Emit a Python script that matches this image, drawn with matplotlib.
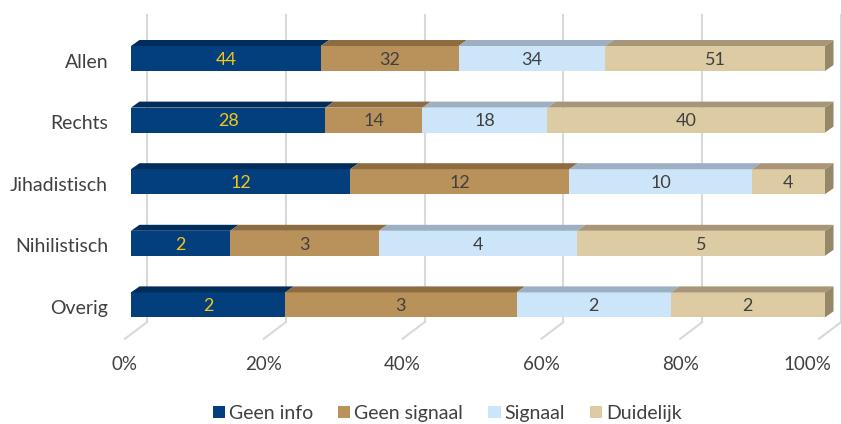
import numpy as np
import matplotlib.pyplot as plt
from matplotlib.patches import Polygon, Patch

plt.rcParams['font.family'] = ['Lato', 'DejaVu Sans']

# data (aantallen per categorie)
categorieen = ['Allen', 'Rechts', 'Jihadistisch', 'Nihilistisch', 'Overig']
reeksen = ['Geen info', 'Geen signaal', 'Signaal', 'Duidelijk']
geen_info = [44, 28, 12, 2, 2]
geen_signaal = [32, 14, 12, 3, 3]
signaal = [34, 18, 10, 4, 2]
duidelijk = [51, 40, 4, 5, 2]
xticks = [0, 20, 40, 60, 80, 100]

kleur_voor = ['#023F7C', '#B9915B', '#CCE5F8', '#DDCBA4']
kleur_boven = ['#012D5A', '#8C6C40', '#9DB0C3', '#A99679']
kleur_zij = '#978769'
tekst_kleur = ['#F5C518', '#404040', '#404040', '#404040']
grijs = '#404040'

waarden = np.array([geen_info, geen_signaal, signaal, duidelijk], dtype=float)
procent = waarden / waarden.sum(axis=0) * 100

fig = plt.figure(figsize=(8.41, 4.24), dpi=100)
ax = fig.add_axes([0, 0, 1, 1])
px = 6.94   # pixels per procent
py = 61.6   # pixels per categorie
ax.set_xlim(-131 / px, (841 - 131) / px)
ax.set_ylim((424 - 58.5) / py, -58.5 / py)
ax.axis('off')

h = 25 / py          # hoogte voorvlak
dx = 8.5 / px        # diepte balk
dy = 6 / py
gx_back = 16 / px    # achterwand
gx_front = -6 / px   # voorkant vloer
y_top = -0.71
y_floor = 4.28
y_floor_front = 4.55

# rasterlijnen
for t in xticks:
    ax.plot([t + gx_back, t + gx_back], [y_top, y_floor], color='#D9D9D9', lw=1.5, zorder=0)
    ax.plot([t + gx_back, t + gx_front], [y_floor, y_floor_front], color='#D9D9D9', lw=1.5, zorder=0)
    if t == 100:
        ax.text(100.9, 4.96, f'{t}%', ha='right', va='center', fontsize=13.5, color=grijs)
    else:
        ax.text(t + gx_front, 4.96, f'{t}%', ha='center', va='center', fontsize=13.5, color=grijs)

for i, cat in enumerate(categorieen):
    yt = i - h / 2
    yb = i + h / 2
    links = 0
    for j in range(len(reeksen)):
        w = procent[j, i]
        r = links + w
        ax.add_patch(Polygon([(links, yt), (r, yt), (r, yb), (links, yb)],
                             closed=True, facecolor=kleur_voor[j], edgecolor='none', zorder=2))
        ax.add_patch(Polygon([(links, yt), (r, yt), (r + dx, yt - dy), (links + dx, yt - dy)],
                             closed=True, facecolor=kleur_boven[j], edgecolor='none', zorder=2))
        ax.text(links + w / 2, i + 0.02, f'{int(waarden[j, i])}', ha='center', va='center',
                fontsize=13, color=tekst_kleur[j], zorder=3)
        links = r
    ax.add_patch(Polygon([(100, yt), (100, yb), (100 + dx, yb - dy), (100 + dx, yt - dy)],
                         closed=True, facecolor=kleur_zij, edgecolor='none', zorder=2))
    ax.text(-3.3, i + 0.06, cat, ha='right', va='center', fontsize=14, color=grijs)

handles = [Patch(facecolor=c, edgecolor='none', label=l) for c, l in zip(kleur_voor, reeksen)]
fig.legend(handles=handles, loc='center', bbox_to_anchor=(0.532, 0.025), ncol=4, frameon=False,
           fontsize=14, handlelength=0.62, handleheight=0.62, handletextpad=0.2,
           columnspacing=1.3, labelcolor=grijs)

fig.savefig('out.png', dpi=100)
